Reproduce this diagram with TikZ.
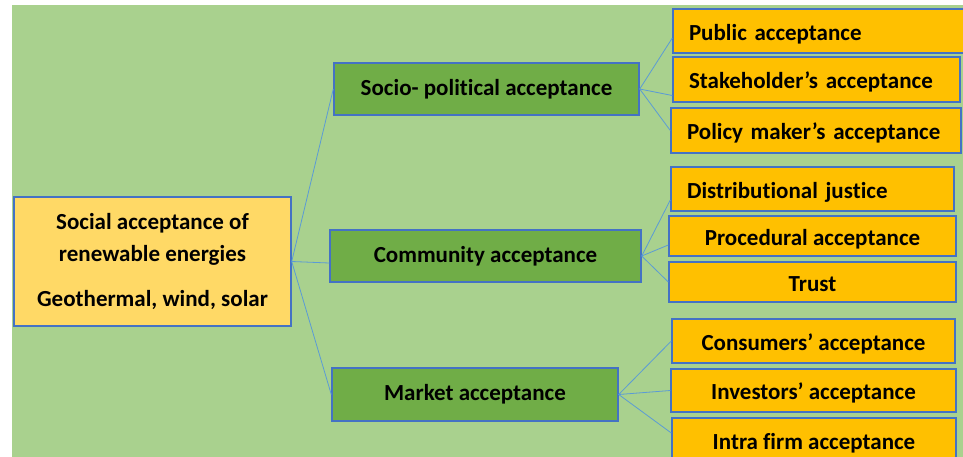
\documentclass[tikz,border=0pt]{standalone}
\usepackage{fontspec}
\setmainfont{Carlito}[Ligatures=NoCommon]
\definecolor{bggreen}{HTML}{A9D18E}
\definecolor{rootyel}{HTML}{FFD966}
\definecolor{midgreen}{HTML}{70AD47}
\definecolor{leafgold}{HTML}{FFC000}
\definecolor{bdblue}{HTML}{4472C4}
\definecolor{lnblue}{HTML}{5B9BD5}

\begin{document}
\begin{tikzpicture}[
  x=1pt, y=-1pt,
  box/.style={draw=bdblue, line width=1.4pt, inner sep=0pt},
  rootbox/.style={box, fill=rootyel, align=center,
    font=\fontsize{23}{32}\selectfont\bfseries},
  midbox/.style={box, fill=midgreen,
    font=\fontsize{23}{27}\selectfont\bfseries},
  leaf/.style={box, fill=leafgold, text height=18pt, text depth=0pt,
    font=\fontsize{23}{27}\selectfont\bfseries},
  leafleft/.style={leaf, inner xsep=16pt, align=left},
  link/.style={lnblue, line width=0.8pt},
]

% Page and background
\useasboundingbox (0,0) rectangle (963,456);
\clip (0,0) rectangle (963,456);
\fill[bggreen] (12,5) rectangle (970,470);

% =============================================
% Root
% =============================================

\node[rootbox, minimum width=277, minimum height=129] (root) at (152.5,261.5)
  {Social acceptance of\\renewable energies\\[13pt]Geothermal, wind, solar};

% =============================================
% Middle level
% =============================================

\node[midbox, minimum width=305, minimum height=52] (socio) at (486.5,89)
  {Socio- political acceptance};
\node[midbox, minimum width=311, minimum height=52] (comm) at (485.5,256)
  {Community acceptance};
\node[midbox, minimum width=286, minimum height=53] (market) at (475,394.5)
  {Market acceptance};

% =============================================
% Leaves
% =============================================

% Socio-political
\node[leafleft, text width=260, minimum height=44] (public) at (819,31)
  {Public acceptance};
\node[leafleft, text width=255, minimum height=45] (stake) at (816.5,79.5)
  {Stakeholder’s acceptance};
\node[leafleft, text width=258, minimum height=45] (policy) at (816,130.5)
  {Policy maker’s acceptance};

% Community
\node[leafleft, text width=251, minimum height=44] (distr) at (812.5,189)
  {Distributional justice};
\node[leaf, minimum width=287, minimum height=40] (proc) at (812.5,236)
  {Procedural acceptance};
\node[leaf, minimum width=287, minimum height=40] (trust) at (812.5,282)
  {Trust};

% Market
\node[leaf, minimum width=283, minimum height=44] (cons) at (813.5,341)
  {Consumers’ acceptance};
\node[leaf, minimum width=285, minimum height=43] (invest) at (813.5,390.5)
  {Investors’ acceptance};
\node[leaf, minimum width=284, minimum height=44] (intra) at (814,440)
  {Intra firm acceptance};

% =============================================
% Connectors
% =============================================

\draw[link] (root.east) -- (socio.west);
\draw[link] (root.east) -- ([yshift=-7pt]comm.west);
\draw[link] (root.east) -- (market.west);

\draw[link] (socio.east) -- ([yshift=-7pt]public.west);
\draw[link] (socio.east) -- ([yshift=-16pt]stake.west);
\draw[link] (socio.east) -- (policy.west);

\draw[link] (comm.east) -- ([yshift=-11pt]distr.west);
\draw[link] (comm.east) -- ([yshift=-9pt]proc.west);
\draw[link] (comm.east) -- (trust.west);

\draw[link] (market.east) -- (cons.west);
\draw[link] (market.east) -- (invest.west);
\draw[link] (market.east) -- ([yshift=7pt]intra.west);

\end{tikzpicture}
\end{document}
